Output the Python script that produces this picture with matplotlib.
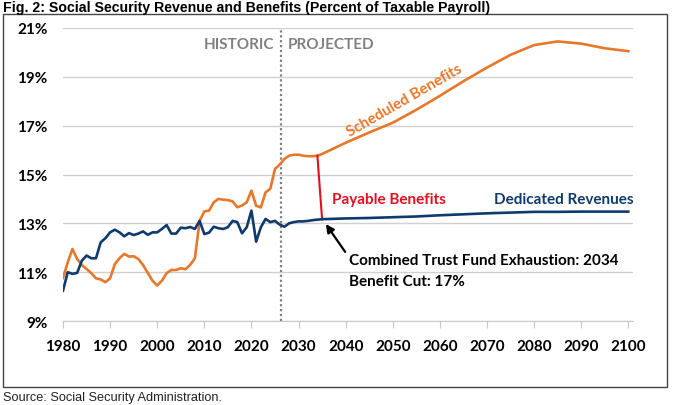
import matplotlib
matplotlib.use("Agg")
import matplotlib.pyplot as plt
from matplotlib.patches import Rectangle

# Percent of taxable payroll
years = list(range(1980, 2036)) + list(range(2040, 2101, 5))

revenue = [10.24, 11.0, 10.93, 10.97, 11.47, 11.68, 11.57, 11.57, 12.22, 12.39,
           12.63, 12.74, 12.63, 12.47, 12.6, 12.52, 12.58, 12.67, 12.53, 12.63,
           12.63, 12.77, 12.93, 12.58, 12.58, 12.82, 12.8, 12.85, 12.77, 13.1,
           12.56, 12.62, 12.86, 12.8, 12.77, 12.84, 13.1, 13.05, 12.59, 12.84,
           13.52, 12.25, 12.84, 13.18, 13.05, 13.1, 12.95, 12.86, 13.0, 13.05,
           13.08, 13.08, 13.1, 13.13, 13.15, 13.17,
           13.2, 13.22, 13.25, 13.28, 13.33, 13.37, 13.41, 13.44, 13.47, 13.47,
           13.48, 13.48, 13.48]

scheduled = [10.76, 11.4, 11.95, 11.54, 11.29, 11.13, 10.96, 10.75, 10.7, 10.59,
             10.75, 11.33, 11.57, 11.75, 11.64, 11.65, 11.54, 11.29, 10.97, 10.65,
             10.45, 10.65, 10.96, 11.09, 11.09, 11.16, 11.12, 11.3, 11.57, 13.1,
             13.49, 13.52, 13.86, 14.0, 13.97, 13.95, 13.9, 13.66, 13.73, 13.86,
             14.34, 13.72, 13.65, 14.27, 14.41, 15.23, 15.4, 15.64, 15.77, 15.81,
             15.81, 15.77, 15.75, 15.75, 15.77, 15.84,
             16.3, 16.72, 17.12, 17.65, 18.22, 18.82, 19.38, 19.9, 20.3, 20.45,
             20.36, 20.17, 20.05]

# benefit cut at trust fund exhaustion
payable_years = [2034, 2035]
payable_vals = [15.77, 13.17]

split_year = 2026.3
yticks = [9, 11, 13, 15, 17, 19, 21]
xticks = list(range(1980, 2101, 10))

ORANGE = "#E8772A"
NAVY = "#0F3A6E"
RED = "#E3101E"
GRAY = "#808080"
FONT = "Lato"

fig = plt.figure(figsize=(6.8, 4.06), dpi=100)
ax = fig.add_axes([63 / 680, 1 - 322 / 406, (633 - 63) / 680, (322 - 29) / 406])

# outer frame like the original export
fig.patches.append(Rectangle((3 / 680, 1 - 388 / 406), 664 / 680, 373 / 406,
                             transform=fig.transFigure, fill=False,
                             edgecolor="#444444", linewidth=1.0))

ax.plot(years, scheduled, color=ORANGE, linewidth=1.9, zorder=3)
ax.plot(years, revenue, color=NAVY, linewidth=1.9, zorder=4)
ax.plot(payable_years, payable_vals, color=RED, linewidth=1.5, zorder=3)

ax.axvline(split_year, color=GRAY, linestyle=(0, (1, 1.2)), linewidth=1.6, zorder=2)

ax.set_xlim(1980, 2101)
ax.set_ylim(9, 21)
ax.set_xticks(xticks)
ax.set_yticks(yticks)
ax.set_yticklabels([f"{v}%" for v in yticks])
ax.grid(axis="y", color="#d0d0d0", linewidth=1.0)
ax.set_axisbelow(True)
for s in ["top", "right", "left"]:
    ax.spines[s].set_visible(False)
ax.spines["bottom"].set_color("#c8c8c8")
ax.tick_params(axis="y", length=0, pad=11)
ax.tick_params(axis="x", length=5, color="#c8c8c8", direction="out", pad=8)
for lab in ax.get_xticklabels() + ax.get_yticklabels():
    lab.set_fontfamily(FONT)
    lab.set_fontweight("bold")
    lab.set_fontsize(11)

# annotations
tk = dict(fontfamily=FONT, fontweight="bold", fontsize=11)
ax.text(2024.8, 20.34, "HISTORIC", color=GRAY, ha="right", va="center", **tk)
ax.text(2027.8, 20.34, "PROJECTED", color=GRAY, ha="left", va="center", **tk)
ax.text(2052.5, 18.05, "Scheduled Benefits", color=ORANGE, ha="center",
        va="center", rotation=30, **tk)
ax.text(2037.0, 14.0, "Payable Benefits", color=RED, ha="left", va="center", **tk)
ax.text(2071.5, 14.0, "Dedicated Revenues", color=NAVY, ha="left", va="center", **tk)
ax.annotate("", xy=(2035.8, 12.97), xytext=(2039.9, 11.83),
            arrowprops=dict(arrowstyle="-|>", color="black", lw=1.6,
                            mutation_scale=12, shrinkA=0, shrinkB=0))
ax.text(2040.8, 11.51, "Combined Trust Fund Exhaustion: 2034", color="black",
        ha="left", va="center", **tk)
ax.text(2040.8, 10.65, "Benefit Cut: 17%", color="black", ha="left",
        va="center", **tk)

fig.text(3 / 680, 1 - 1 / 406,
         "Fig. 2: Social Security Revenue and Benefits (Percent of Taxable Payroll)",
         fontfamily="Liberation Sans", fontweight="bold", fontsize=10.2,
         ha="left", va="top")
fig.text(3 / 680, 1 - 404 / 406, "Source: Social Security Administration.",
         fontfamily="Liberation Sans", fontsize=9.2, ha="left", va="bottom",
         color="#222222")

fig.savefig("out.png", dpi=100)
